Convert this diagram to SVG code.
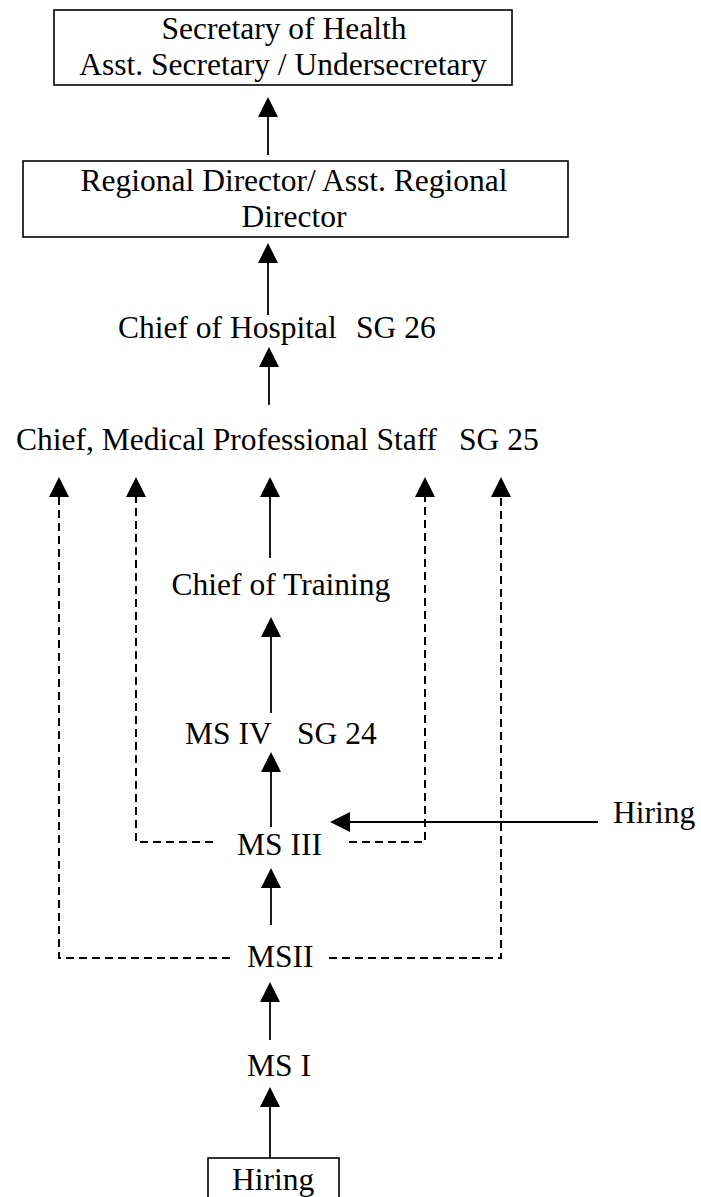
<svg xmlns="http://www.w3.org/2000/svg" width="701" height="1197" viewBox="0 0 701 1197">
<style>
text{font-family:"Liberation Serif","Times New Roman",serif;font-size:31.5px;fill:#000}
.box{fill:#fff;stroke:#000;stroke-width:1.6}
.solid{fill:none;stroke:#000;stroke-width:1.8}
.dash{fill:none;stroke:#000;stroke-width:2;stroke-dasharray:8 5}
.m{text-anchor:middle}
</style>
<defs>
<marker id="ah" markerUnits="userSpaceOnUse" markerWidth="20" markerHeight="20" refX="0" refY="10" orient="auto" viewBox="0 0 20 20">
<path d="M0,0 L20,10 L0,20 z" fill="#000"/>
</marker>
</defs>
<rect width="701" height="1197" fill="#fff"/>
<g id="connectors">
<line class="solid" x1="268" y1="155" x2="268" y2="117" marker-end="url(#ah)"/>
<line class="solid" x1="268" y1="315" x2="268" y2="263" marker-end="url(#ah)"/>
<line class="solid" x1="269" y1="405" x2="269" y2="367" marker-end="url(#ah)"/>
<line class="solid" x1="270" y1="558" x2="270" y2="497" marker-end="url(#ah)"/>
<line class="solid" x1="271" y1="713" x2="271" y2="637" marker-end="url(#ah)"/>
<line class="solid" x1="271" y1="827" x2="271" y2="772" marker-end="url(#ah)"/>
<line class="solid" x1="271" y1="925" x2="271" y2="888" marker-end="url(#ah)"/>
<line class="solid" x1="270" y1="1040" x2="270" y2="1002" marker-end="url(#ah)"/>
<line class="solid" x1="270" y1="1163" x2="270" y2="1107" marker-end="url(#ah)"/>
<line class="solid" x1="598" y1="822" x2="350" y2="822" marker-end="url(#ah)"/>
<path class="dash" d="M230,958 H59 V497" marker-end="url(#ah)"/>
<path class="dash" d="M329,958 H501 V497" marker-end="url(#ah)"/>
<path class="dash" d="M213,842 H136 V497" marker-end="url(#ah)"/>
<path class="dash" d="M349,842 H425 V497" marker-end="url(#ah)"/>
</g>
<g id="secretary">
<rect class="box" x="54" y="10" width="458" height="75"/>
<text class="m" x="284" y="39">Secretary of Health</text>
<text class="m" x="283" y="75">Asst. Secretary / Undersecretary</text>
</g>
<g id="regional-director">
<rect class="box" x="23" y="161" width="545" height="76"/>
<text class="m" x="294" y="191">Regional Director/ Asst. Regional</text>
<text class="m" x="294" y="227">Director</text>
</g>
<g id="chief-hospital">
<text y="338"><tspan x="118">Chief of Hospital</tspan> <tspan x="356">SG 26</tspan></text>
</g>
<g id="chief-medical">
<text y="450"><tspan x="16">Chief, Medical Professional Staff</tspan> <tspan x="459">SG 25</tspan></text>
</g>
<g id="chief-training">
<text class="m" x="281" y="595">Chief of Training</text>
</g>
<g id="ms4">
<text y="744"><tspan x="185">MS IV</tspan> <tspan x="297">SG 24</tspan></text>
</g>
<g id="hiring-lateral">
<text x="613" y="823">Hiring</text>
</g>
<g id="ms3">
<text x="237" y="855">MS III</text>
</g>
<g id="ms2">
<text x="247" y="967">MSII</text>
</g>
<g id="ms1">
<text x="247" y="1076">MS I</text>
</g>
<g id="hiring-entry">
<rect class="box" x="208" y="1158" width="131" height="60"/>
<text x="232" y="1190">Hiring</text>
</g>
</svg>
